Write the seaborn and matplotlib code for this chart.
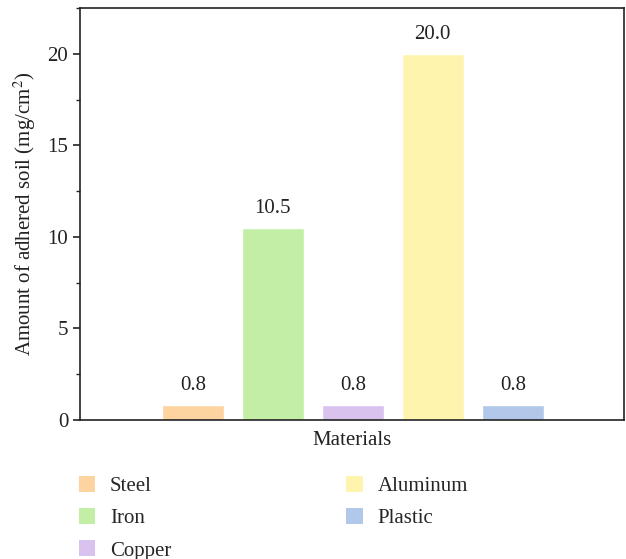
import matplotlib
matplotlib.use("Agg")
import matplotlib.pyplot as plt
from matplotlib.ticker import MultipleLocator
from matplotlib.patches import Patch
import seaborn as sns
import pandas as pd

materials = ["Steel", "Iron", "Copper", "Aluminum", "Plastic"]
adhered = [0.8, 10.5, 0.8, 20.0, 0.8]
colors = ["#FDD3A0", "#C2EFA5", "#D9C3EE", "#FEF4AE", "#B2C8EA"]

sns.set_theme(style="ticks")
plt.rcParams["font.family"] = ["Liberation Serif", "DejaVu Serif"]
plt.rcParams["mathtext.fontset"] = "stix"

FS = 15
TXT = "#222222"

df = pd.DataFrame({"Materials": materials, "Amount": adhered})

fig = plt.figure(figsize=(6.26, 5.59), dpi=100)
ax = fig.add_axes([80 / 626, 1 - 420 / 559, 544 / 626, 412 / 559])

sns.barplot(data=df, x="Materials", y="Amount", hue="Materials",
            palette=colors, width=0.775, saturation=1, legend=False, ax=ax)

for i, v in enumerate(adhered):
    ax.text(i, v + 0.55, f"{v:.1f}", ha="center", va="bottom",
            fontsize=FS, color=TXT)

ax.set_xlim(-1.41, 5.39)
ax.set_ylim(0, 22.5)
ax.yaxis.set_major_locator(MultipleLocator(5))
ax.yaxis.set_minor_locator(MultipleLocator(2.5))
ax.set_xticks([])
ax.tick_params(axis="y", which="major", direction="out", length=5,
               width=1.2, labelsize=FS, colors=TXT)
ax.tick_params(axis="y", which="minor", direction="out", length=3, width=1.0)
for s in ax.spines.values():
    s.set_linewidth(1.2)
    s.set_color(TXT)

ax.set_xlabel("Materials", fontsize=FS, color=TXT, labelpad=8)
ax.set_ylabel("Amount of adhered soil (mg/cm$^2$)", fontsize=FS,
              color=TXT, labelpad=7)

handles = [Patch(facecolor=c, edgecolor="none") for c in colors]
fig.legend(handles, materials, ncol=2, loc="upper left",
           bbox_to_anchor=(60 / 626, 1 - 457 / 559), frameon=False,
           fontsize=FS, handlelength=0.8, handleheight=0.8,
           handletextpad=0.7, columnspacing=8.4, labelspacing=0.58)

fig.savefig("out.png", dpi=100)
